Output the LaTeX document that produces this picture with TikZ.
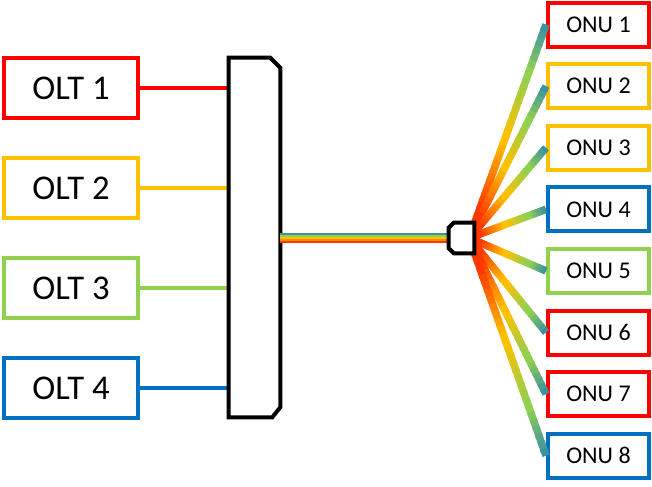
\documentclass[tikz,border=0pt]{standalone}
\usepackage{fontspec}
\setmainfont{Carlito}
\usetikzlibrary{calc}

\definecolor{pptred}{HTML}{FF0000}
\definecolor{pptgold}{HTML}{FFC000}
\definecolor{pptgreen}{HTML}{92D050}
\definecolor{pptblue}{HTML}{0070C0}
\definecolor{fibred}{HTML}{FF3800}
\definecolor{fiborange}{HTML}{FF8A00}
\definecolor{fibteal}{HTML}{3C93A0}

\tikzset{
  olt/.style={draw=#1, line width=3pt, minimum width=100.5pt, minimum height=45pt,
    inner sep=0pt, font=\fontsize{26}{30}\selectfont},
  onu/.style={draw=#1, line width=3pt, minimum width=75.75pt, minimum height=33pt,
    inner sep=0pt, font=\fontsize{18}{22}\selectfont},
  feed/.style={draw=#1, line width=3pt},
  stripe/.style={draw=#1, line width=1.6pt},
  fiber/.style={line width=5.6pt},
}

% one fan line, red at the splitter, teal at the ONU
\newcommand{\fanline}[2]{%
  \foreach \k in {1,...,30}{%
    \pgfmathsetmacro{\ta}{(\k-1)/30}%
    \pgfmathsetmacro{\tb}{min(\k/30+0.015,1)}%
    \ifnum\k<5 \colorlet{fancol}{fibred}%
    \else\ifnum\k<15 \pgfmathtruncatemacro{\p}{100-(\k-5)*100/9}\colorlet{fancol}{fibred!\p!pptgold}%
    \else\ifnum\k<24 \pgfmathtruncatemacro{\p}{100-(\k-15)*100/8}\colorlet{fancol}{pptgold!\p!pptgreen}%
    \else \pgfmathtruncatemacro{\p}{100-(\k-24)*100/6}\colorlet{fancol}{pptgreen!\p!fibteal}\fi\fi\fi
    \draw[fiber, fancol] ($(#1)!\ta!(#2)$) -- ($(#1)!\tb!(#2)$);
  }}

\begin{document}
\begin{tikzpicture}[x=0.75pt, y=-0.75pt]
	\useasboundingbox (0, 0) rectangle (652, 486);

	% OLTs
	\node[olt=pptred] (olt1) at (71, 88) {OLT 1};
	\node[olt=pptgold] (olt2) at (71, 188) {OLT 2};
	\node[olt=pptgreen] (olt3) at (71, 288) {OLT 3};
	\node[olt=pptblue] (olt4) at (71, 388) {OLT 4};

	% multiplexer and splitter
	\node[minimum width=38.25pt, minimum height=269.25pt, inner sep=0pt] (mux) at (254.5, 237.5) {};
	\node[minimum width=18.75pt, minimum height=22.5pt, inner sep=0pt] (spl) at (461.5, 238) {};

	% ONUs
	\foreach \i/\c in {1/pptred, 2/pptgold, 3/pptgold, 4/pptblue, 5/pptgreen, 6/pptred, 7/pptred, 8/pptblue}
		\node[onu=\c] (onu\i) at (598.5, {24.5 + 61.6*(\i-1)}) {ONU \i};

	\draw[feed=pptred] (olt1.east) -- (olt1 -| mux.west);
	\draw[feed=pptgold] (olt2.east) -- (olt2 -| mux.west);
	\draw[feed=pptgreen] (olt3.east) -- (olt3 -| mux.west);
	\draw[feed=pptblue] (olt4.east) -- (olt4 -| mux.west);

	\draw[line width=3pt] (mux.north west) -- ($(mux.north east) + (-10, 0)$) -- ($(mux.north east) + (0, 10)$)
		-- ($(mux.south east) + (0, -10)$) -- ($(mux.south east) + (-8, 0)$) -- (mux.south west) -- cycle;

	% trunk fiber
	\foreach \dy/\c in {-4/fibteal, -2/pptgreen, 0/pptgold, 2/fiborange, 4/fibred}
		\draw[stripe=\c] ($(mux.east |- spl.west) + (0, \dy)$) -- ($(spl.west) + (0, \dy)$);

	% fan out
	\coordinate (hub) at ($(spl.east) + (-5, 0)$);
	\foreach \i in {1,...,8}
		\fanline{hub}{onu\i.west};

	\draw[line width=3pt, fill=white] ($(spl.north west) + (0, 5)$) -- ($(spl.north west) + (5, 0)$) -- (spl.north east)
		-- (spl.south east) -- ($(spl.south west) + (5, 0)$) -- ($(spl.south west) + (0, -5)$) -- cycle;
\end{tikzpicture}
\end{document}
